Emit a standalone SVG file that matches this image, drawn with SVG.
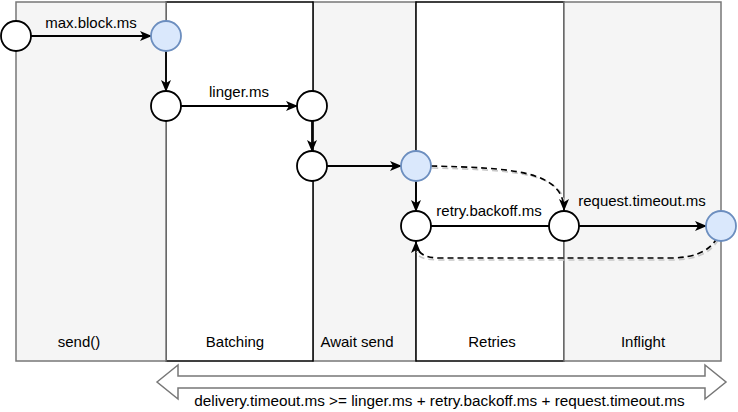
<svg xmlns="http://www.w3.org/2000/svg" width="738" height="412" viewBox="0 0 738 412">
<style>
  text { font-family: "Liberation Sans", Arial, sans-serif; font-size: 15px; fill: #000; text-anchor: middle; }
  .lane-gray { fill: #f5f5f5; stroke: #777; stroke-width: 1.5; }
  .lane-white { fill: #fff; stroke: #000; stroke-width: 1.5; }
  .node { fill: #fff; stroke: #000; stroke-width: 1.8; }
  .node-blue { fill: #dae8fc; stroke: #6c8ebf; stroke-width: 1.8; }
  .edge { fill: none; stroke: #000; stroke-width: 1.8; }
  .dash { fill: none; stroke: #000; stroke-width: 1.6; stroke-dasharray: 6 4; }
  .shadow { fill: none; stroke: #c8c8c8; stroke-width: 1.6; stroke-dasharray: 6 4; }
  .band { fill: #fff; stroke: #777; stroke-width: 1.5; }
</style>
<defs>
  <marker id="arr" markerUnits="userSpaceOnUse" markerWidth="12" markerHeight="10" viewBox="0 0 12 10" refX="11" refY="5" orient="auto">
    <path d="M0,0 L12,5 L0,10 L3,5 Z" fill="#000"/>
  </marker>
</defs>

<g id="lanes">
  <g id="lane-await"><rect class="lane-gray" x="313" y="2" width="103" height="359"/><text x="357" y="347">Await send</text></g>
  <g id="lane-batching"><rect class="lane-white" x="166" y="2" width="147" height="359"/><text x="235" y="347">Batching</text></g>
  <g id="lane-retries"><rect class="lane-white" x="416" y="2" width="148" height="359"/><text x="492" y="347">Retries</text></g>
  <g id="lane-send"><rect class="lane-gray" x="16" y="2" width="150" height="359"/><text x="79" y="347">send()</text></g>
  <g id="lane-inflight"><rect class="lane-gray" x="564" y="2" width="157" height="359"/><text x="643" y="347">Inflight</text></g>
</g>

<g id="connectors">
  <line class="edge" x1="31" y1="36" x2="151" y2="36" marker-end="url(#arr)"/>
  <text x="91" y="27.5">max.block.ms</text>
  <line class="edge" x1="166" y1="51" x2="166" y2="91" marker-end="url(#arr)"/>
  <line class="edge" x1="181" y1="106" x2="297" y2="106" marker-end="url(#arr)"/>
  <text x="239" y="97">linger.ms</text>
  <line class="edge" x1="312" y1="121" x2="312" y2="151" marker-end="url(#arr)"/>
  <line class="edge" x1="327" y1="166" x2="401" y2="166" marker-end="url(#arr)"/>
  <line class="edge" x1="416" y1="181" x2="416" y2="211" marker-end="url(#arr)"/>
  <line class="edge" x1="431" y1="226" x2="549" y2="226"/>
  <text x="489" y="216">retry.backoff.ms</text>
  <line class="edge" x1="579" y1="226" x2="706" y2="226" marker-end="url(#arr)"/>
  <text x="642" y="206">request.timeout.ms</text>
  <path class="shadow" d="M432,168 C511,170 565,172 565,208"/>
  <path class="dash" d="M431,166 C510,168 564,170 564,210" marker-end="url(#arr)"/>
  <path class="shadow" d="M718,240 Q707,260 671,260 L441,260 Q417,260 417,252"/>
  <path class="dash" d="M717,238 Q706,258 670,258 L440,258 Q416,258 416,242" marker-end="url(#arr)"/>
</g>

<g id="nodes">
  <circle id="n1" class="node" cx="16" cy="36" r="15"/>
  <circle id="n2" class="node-blue" cx="166" cy="36" r="15"/>
  <circle id="n3" class="node" cx="166" cy="106" r="15"/>
  <circle id="n4" class="node" cx="312" cy="106" r="15"/>
  <circle id="n5" class="node" cx="312" cy="166" r="15"/>
  <circle id="n6" class="node-blue" cx="416" cy="166" r="15"/>
  <circle id="n7" class="node" cx="416" cy="226" r="15"/>
  <circle id="n8" class="node" cx="564" cy="226" r="15"/>
  <circle id="n9" class="node-blue" cx="721" cy="226" r="15"/>
</g>

<g id="delivery-timeout">
  <path class="band" d="M157,382 L178,365 L178,376 L705,376 L705,365 L726,382 L705,399 L705,388 L178,388 L178,399 Z"/>
  <text x="439.5" y="406" style="font-size:15.3px">delivery.timeout.ms &gt;= linger.ms + retry.backoff.ms + request.timeout.ms</text>
</g>
</svg>
